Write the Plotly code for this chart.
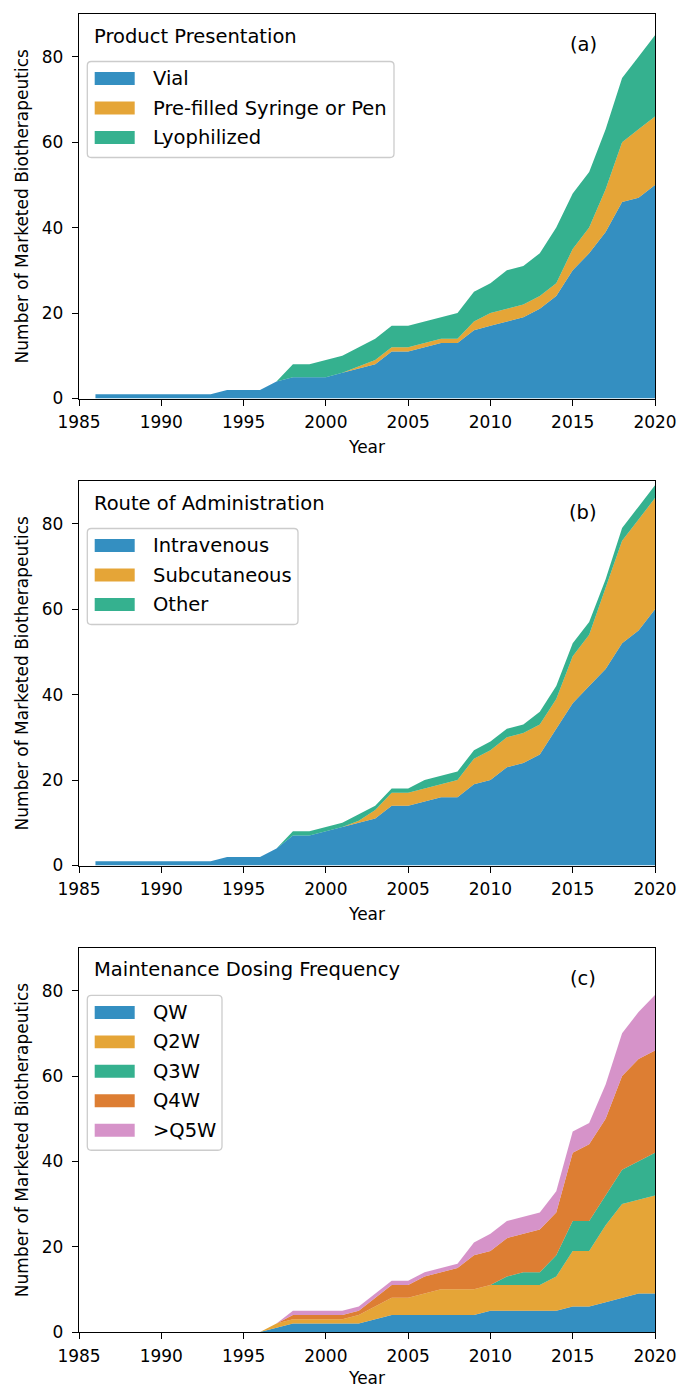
import plotly.graph_objects as go

# ---- data -------------------------------------------------------------
years = list(range(1986, 2021))

# (a) product presentation
vial = [1, 1, 1, 1, 1, 1, 1, 1, 2, 2, 2, 4, 5, 5, 5, 6, 7, 8, 11, 11,
        12, 13, 13, 16, 17, 18, 19, 21, 24, 30, 34, 39, 46, 47, 50]
prefilled = [0] * 16 + [0.5, 1, 1, 1, 1, 1, 1, 2, 3, 3, 3, 3, 3, 5, 6,
                        10, 14, 16, 16]
lyophilized = [0] * 12 + [3, 3, 4, 4, 4.5, 5, 5, 5, 5, 5, 6, 7, 7, 9, 9,
                          10, 13, 13, 13, 14, 15, 17, 19]

# (b) route of administration
intravenous = [1] * 8 + [2] * 3 + [4, 7, 7, 8, 9, 10, 11, 14, 14, 15, 16,
                                   16, 19, 20, 23, 24, 26, 32, 38, 42, 46,
                                   52, 55, 60]
subcutaneous = [0] * 16 + [0.5, 2, 3, 3, 3, 3, 4, 6, 7, 7, 7, 7, 7, 11, 12,
                           19, 24, 26, 26]
other = [0] * 12 + [1, 1, 1, 1, 1.5, 1, 1, 1, 2, 2, 2, 2, 2, 2, 2, 3, 3, 3,
                    3, 2, 3, 3, 3]

# (c) maintenance dosing frequency
qw = [0] * 11 + [1, 2, 2, 2, 2, 2, 3, 4, 4, 4, 4, 4, 4, 5, 5, 5, 5, 5, 6,
                 6, 7, 8, 9, 9]
q2w = [0] * 11 + [1, 1, 1, 1, 1, 2, 3, 4, 4, 5, 6, 6, 6, 6, 6, 6, 6, 8, 13,
                  13, 18, 22, 22, 23]
q3w = [0] * 25 + [2, 3, 3, 5, 7, 7, 7, 8, 9, 10]
q4w = [0] * 12 + [1, 1, 1, 1, 1, 2, 3, 3, 4, 4, 5, 8, 8, 9, 9, 10, 10, 16,
                  18, 18, 22, 24, 24]
q5w = [0] * 12 + [1, 1, 1, 1, 1, 1, 1, 1, 1, 1, 1, 3, 4, 4, 4, 4, 5, 5, 5,
                  8, 10, 11, 13]

x_ticks = [1985, 1990, 1995, 2000, 2005, 2010, 2015, 2020]
y_ticks = [0, 20, 40, 60, 80]

palette = ["rgba(1,115,178,0.8)", "rgba(222,143,5,0.8)",
           "rgba(2,158,115,0.8)", "rgba(213,94,0,0.8)",
           "rgba(204,120,188,0.8)"]

panels = [
    dict(title="Product Presentation", tag="(a)",
         series=[("Vial", vial), ("Pre-filled Syringe or Pen", prefilled),
                 ("Lyophilized", lyophilized)],
         box_right=315),
    dict(title="Route of Administration", tag="(b)",
         series=[("Intravenous", intravenous), ("Subcutaneous", subcutaneous),
                 ("Other", other)],
         box_right=219),
    dict(title="Maintenance Dosing Frequency", tag="(c)",
         series=[("QW", qw), ("Q2W", q2w), ("Q3W", q3w), ("Q4W", q4w),
                 (">Q5W", q5w)],
         box_right=143),
]

# ---- layout geometry (pixels) ----------------------------------------
W, H = 683, 1388
ML, MR, MT, MB = 79, 28, 14, 56
PW = W - ML - MR            # plot width
PH_TOTAL = H - MT - MB
panel_tops = [14, 481, 948]
panel_h = 384.5

FONT = "DejaVu Sans"
TICK_SIZE = 17
LABEL_SIZE = 17
BIG_SIZE = 19.5

fig = go.Figure()
shapes = []
annotations = []

for i, p in enumerate(panels):
    sfx = "" if i == 0 else str(i + 1)
    xa, ya = "x" + sfx, "y" + sfx
    top = panel_tops[i]
    bottom = top + panel_h
    dom = [(H - MB - bottom) / PH_TOTAL, (H - MB - top) / PH_TOTAL]
    dom = [max(0.0, dom[0]), min(1.0, dom[1])]

    for k, (name, vals) in enumerate(p["series"]):
        fig.add_trace(go.Scatter(
            x=years, y=vals, name=name, mode="lines",
            stackgroup="s" + str(i), line=dict(width=0, color=palette[k]),
            fillcolor=palette[k], showlegend=False,
            xaxis=xa, yaxis=ya))

    axis_common = dict(showline=True, linecolor="black", linewidth=1.3,
                       mirror=True, ticks="outside", ticklen=6,
                       tickwidth=1.3, tickcolor="black", showgrid=False,
                       zeroline=False,
                       tickfont=dict(family=FONT, size=TICK_SIZE,
                                     color="black"))
    fig.layout["xaxis" + sfx] = dict(
        axis_common, domain=[0, 1], range=[1985, 2020], tickvals=x_ticks,
        anchor=ya, ticklabelstandoff=2,
        title=dict(text="Year", standoff=10,
                   font=dict(family=FONT, size=LABEL_SIZE, color="black")))
    fig.layout["yaxis" + sfx] = dict(
        axis_common, domain=dom, range=[0, 90], tickvals=y_ticks,
        anchor=xa, ticklabelstandoff=5,
        title=dict(text="Number of Marketed Biotherapeutics", standoff=8,
                   font=dict(family=FONT, size=LABEL_SIZE, color="black")))

    xd, yd = xa + " domain", ya + " domain"

    def fx(dx):
        return dx / PW

    def fy(dy):
        return 1 - dy / panel_h

    # panel heading and tag
    annotations.append(dict(
        text=p["title"], xref=xd, yref=yd, x=fx(13), y=fy(22),
        xanchor="left", yanchor="middle", showarrow=False,
        font=dict(family=FONT, size=BIG_SIZE, color="black")))
    annotations.append(dict(
        text=p["tag"], xref=xd, yref=yd, x=fx(504), y=fy(31),
        xanchor="center", yanchor="middle", showarrow=False,
        font=dict(family=FONT, size=BIG_SIZE, color="black")))

    # legend frame with rounded corners
    n = len(p["series"])
    row0, step = 64.5, 29.5
    bl, br = 8.3, p["box_right"]
    bt, bb = 47.5, row0 + step * (n - 1) + 20
    r = 4
    rx, ry = r / PW, r / panel_h
    x0, x1, y0, y1 = fx(bl), fx(br), fy(bb), fy(bt)
    path = (f"M{x0 + rx},{y1} L{x1 - rx},{y1} Q{x1},{y1} {x1},{y1 - ry} "
            f"L{x1},{y0 + ry} Q{x1},{y0} {x1 - rx},{y0} L{x0 + rx},{y0} "
            f"Q{x0},{y0} {x0},{y0 + ry} L{x0},{y1 - ry} Q{x0},{y1} "
            f"{x0 + rx},{y1} Z")
    shapes.append(dict(type="path", xref=xd, yref=yd, path=path,
                       fillcolor="rgba(255,255,255,0.8)",
                       line=dict(color="rgb(204,204,204)", width=1.3)))

    for k, (name, _) in enumerate(p["series"]):
        cy = row0 + step * k
        shapes.append(dict(type="rect", xref=xd, yref=yd,
                           x0=fx(15.7), x1=fx(55.7),
                           y0=fy(cy + 6.5), y1=fy(cy - 6.5),
                           fillcolor=palette[k], line=dict(width=0)))
        annotations.append(dict(
            text=name, xref=xd, yref=yd, x=fx(71.7), y=fy(cy),
            xanchor="left", yanchor="middle", showarrow=False,
            font=dict(family=FONT, size=BIG_SIZE, color="black")))

fig.update_layout(
    width=W, height=H,
    margin=dict(l=ML, r=MR, t=MT, b=MB, autoexpand=False),
    paper_bgcolor="white", plot_bgcolor="white",
    font=dict(family=FONT, color="black"),
    shapes=shapes, annotations=annotations, showlegend=False,
)

fig.write_html("out.html")
